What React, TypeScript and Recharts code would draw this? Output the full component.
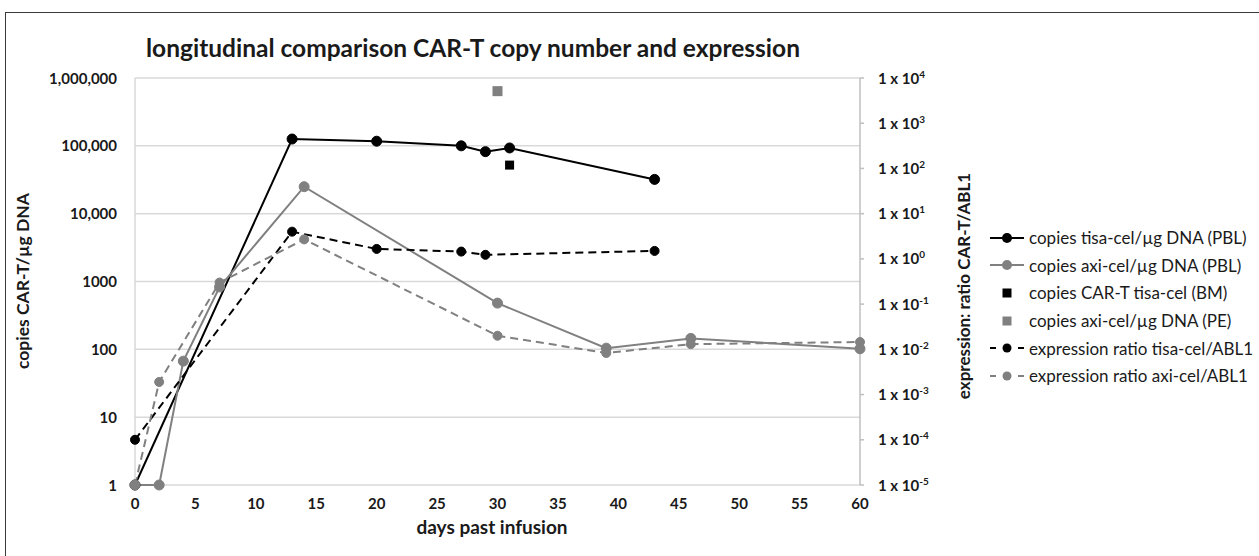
import React from "react";
import { ComposedChart, Line, Scatter, XAxis, YAxis, CartesianGrid } from "recharts";

// days past infusion / values
const tisaDays = [0, 13, 20, 27, 29, 31, 43];
const tisaCopies = [1, 126000, 117000, 100000, 82000, 93000, 32000];

const axiDays = [0, 2, 4, 7, 14, 30, 39, 46, 60];
const axiCopies = [1, 1, 67, 830, 25000, 480, 104, 145, 102];

const bmDays = [31];
const bmCopies = [52000];

const peDays = [30];
const peCopies = [640000];

const exprTisaDays = [0, 13, 20, 27, 29, 43];
const exprTisa = [0.0001, 4.0, 1.66, 1.45, 1.23, 1.5];

const exprAxiDays = [0, 2, 7, 14, 30, 39, 46, 60];
const exprAxi = [0.00001, 0.0019, 0.3, 2.7, 0.02, 0.0083, 0.013, 0.0145];

const xTicks = [0, 5, 10, 15, 20, 25, 30, 35, 40, 45, 50, 55, 60];
const leftTicks = [1, 10, 100, 1000, 10000, 100000, 1000000];
const leftTickLabels = ["1", "10", "100", "1000", "10,000", "100,000", "1,000,000"];
const rightExponents = [-5, -4, -3, -2, -1, 0, 1, 2, 3, 4];
const rightTicks = rightExponents.map((e) => Math.pow(10, e));

const legendItems = [
  { name: "copies tisa-cel/µg DNA (PBL)", color: "#000000", kind: "line" },
  { name: "copies axi-cel/µg DNA (PBL)", color: "#808080", kind: "line" },
  { name: "copies CAR-T tisa-cel (BM)", color: "#000000", kind: "square" },
  { name: "copies axi-cel/µg DNA (PE)", color: "#808080", kind: "square" },
  { name: "expression ratio tisa-cel/ABL1", color: "#000000", kind: "dash" },
  { name: "expression ratio axi-cel/ABL1", color: "#808080", kind: "dash" },
];

// one row per day, nulls where a series has no sample
const allDays = Array.from(
  new Set([...tisaDays, ...axiDays, ...exprTisaDays, ...exprAxiDays])
).sort((a, b) => a - b);

const rows = allDays.map((day) => {
  const pick = (days: number[], vals: number[]) => {
    const i = days.indexOf(day);
    return i >= 0 ? vals[i] : null;
  };
  return {
    day,
    tisa: pick(tisaDays, tisaCopies),
    axi: pick(axiDays, axiCopies),
    exprTisa: pick(exprTisaDays, exprTisa),
    exprAxi: pick(exprAxiDays, exprAxi),
  };
});

const bmRows = bmDays.map((day, i) => ({ day, bm: bmCopies[i] }));
const peRows = peDays.map((day, i) => ({ day, pe: peCopies[i] }));

const FONT = "Lato, 'Open Sans', sans-serif";
const INK = "#1a1a1a";

const XTick = ({ x, y, payload }: any) => (
  <text x={x} y={y + 24} textAnchor="middle" fontFamily={FONT} fontWeight={700} fontSize={15} fill={INK}>
    {payload.value}
  </text>
);

const LeftTick = ({ x, y, payload }: any) => {
  const i = leftTicks.indexOf(payload.value);
  return (
    <text x={x} y={y + 5.5} textAnchor="end" fontFamily={FONT} fontWeight={700} fontSize={15} fill={INK}>
      {i >= 0 ? leftTickLabels[i] : payload.value}
    </text>
  );
};

const RightTick = ({ x, y, payload }: any) => {
  const e = Math.round(Math.log10(payload.value));
  return (
    <text x={x} y={y + 5.5} textAnchor="start" fontFamily={FONT} fontWeight={700} fontSize={15} fill={INK}>
      1 x 10
      <tspan dy={-6} fontSize={10}>
        {e}
      </tspan>
    </text>
  );
};

const squareShape = (side: number, color: string) => (p: any) =>
  <rect x={p.cx - side / 2} y={p.cy - side / 2} width={side} height={side} fill={color} />;

const dotStyle = (r: number, color: string) => ({
  r,
  fill: color,
  stroke: color,
  strokeWidth: 1,
  strokeDasharray: "",
  clipDot: false,
});

function LegendSample({ kind, color }: { kind: string; color: string }) {
  return (
    <svg width={34} height={14} style={{ display: "block" }}>
      {kind === "line" && <line x1={0} x2={34} y1={7} y2={7} stroke={color} strokeWidth={2} />}
      {kind === "dash" && (
        <>
          <line x1={0} x2={6} y1={7} y2={7} stroke={color} strokeWidth={2} />
          <line x1={28} x2={34} y1={7} y2={7} stroke={color} strokeWidth={2} />
        </>
      )}
      {kind === "square" ? (
        <rect x={12.5} y={2.5} width={9} height={9} fill={color} />
      ) : (
        <circle cx={17} cy={7} r={kind === "dash" ? 4.5 : 5} fill={color} />
      )}
    </svg>
  );
}

export default function App() {
  return (
    <div
      style={{
        position: "absolute",
        left: 0,
        top: 0,
        width: 1259,
        height: 556,
        background: "#fff",
        overflow: "hidden",
        fontFamily: FONT,
      }}
    >
      <div
        style={{
          position: "absolute",
          left: 5,
          top: 12,
          width: 1400,
          height: 700,
          borderLeft: "1.5px solid #3a3a3a",
          borderTop: "1.5px solid #3a3a3a",
        }}
      />
      <ComposedChart
        width={1259}
        height={556}
        data={rows}
        margin={{ top: 78, right: 0, bottom: 0, left: 0 }}
        style={{ position: "absolute", left: 0, top: 0 }}
      >
        <CartesianGrid yAxisId="left" vertical={false} stroke="#d9d9d9" strokeWidth={1.5} />
        <XAxis
          dataKey="day"
          type="number"
          domain={[0, 60]}
          ticks={xTicks}
          height={71}
          axisLine={false}
          tickLine={false}
          tickSize={0}
          tickMargin={0}
          tick={<XTick />}
          allowDuplicatedCategory={false}
        />
        <YAxis
          yAxisId="left"
          scale="log"
          domain={[1, 1000000]}
          ticks={leftTicks}
          width={135}
          axisLine={{ stroke: "#d9d9d9", strokeWidth: 1.5 }}
          tickLine={false}
          tickSize={0}
          tickMargin={18}
          tick={<LeftTick />}
        />
        <YAxis
          yAxisId="right"
          orientation="right"
          scale="log"
          domain={[0.00001, 10000]}
          ticks={rightTicks}
          width={399}
          axisLine={{ stroke: "#bfbfbf", strokeWidth: 1.5 }}
          tickLine={{ stroke: "#bfbfbf", strokeWidth: 1.5 }}
          tickSize={4}
          tickMargin={14}
          tick={<RightTick />}
        />
        <Line
          yAxisId="left"
          dataKey="tisa"
          connectNulls
          stroke="#000"
          strokeWidth={2}
          dot={dotStyle(5, "#000")}
          activeDot={false}
          isAnimationActive={false}
        />
        <Line
          yAxisId="left"
          dataKey="axi"
          connectNulls
          stroke="#808080"
          strokeWidth={2}
          dot={dotStyle(5, "#808080")}
          activeDot={false}
          isAnimationActive={false}
        />
        <Scatter
          yAxisId="left"
          data={bmRows}
          dataKey="bm"
          fill="#000"
          shape={squareShape(9, "#000")}
          isAnimationActive={false}
        />
        <Scatter
          yAxisId="left"
          data={peRows}
          dataKey="pe"
          fill="#808080"
          shape={squareShape(10, "#808080")}
          isAnimationActive={false}
        />
        <Line
          yAxisId="right"
          dataKey="exprTisa"
          connectNulls
          stroke="#000"
          strokeWidth={2}
          strokeDasharray="8 5"
          dot={dotStyle(4.5, "#000")}
          activeDot={false}
          isAnimationActive={false}
        />
        <Line
          yAxisId="right"
          dataKey="exprAxi"
          connectNulls
          stroke="#808080"
          strokeWidth={2}
          strokeDasharray="8 5"
          dot={dotStyle(4.5, "#808080")}
          activeDot={false}
          isAnimationActive={false}
        />
      </ComposedChart>

      <svg width={1259} height={556} style={{ position: "absolute", left: 0, top: 0, pointerEvents: "none" }}>
        <text x={473} y={57} textAnchor="middle" fontFamily={FONT} fontWeight={700} fontSize={24.5} fill={INK}>
          longitudinal comparison CAR-T copy number and expression
        </text>
        <text
          transform="translate(22,281) rotate(-90)"
          textAnchor="middle"
          dominantBaseline="central"
          fontFamily={FONT}
          fontWeight={700}
          fontSize={17.5}
          fill={INK}
        >
          copies CAR-T/µg DNA
        </text>
        <text
          transform="translate(963,286) rotate(-90)"
          textAnchor="middle"
          dominantBaseline="central"
          fontFamily={FONT}
          fontWeight={700}
          fontSize={17}
          fill={INK}
        >
          expression: ratio CAR-T/ABL1
        </text>
        <text x={492} y={534} textAnchor="middle" fontFamily={FONT} fontWeight={700} fontSize={19} fill={INK}>
          days past infusion
        </text>
      </svg>

      <div style={{ position: "absolute", left: 990, top: 224 }}>
        {legendItems.map((item) => (
          <div key={item.name} style={{ display: "flex", alignItems: "center", height: 27.6 }}>
            <LegendSample kind={item.kind} color={item.color} />
            <span style={{ marginLeft: 5, fontSize: 17, color: INK, whiteSpace: "nowrap" }}>{item.name}</span>
          </div>
        ))}
      </div>
    </div>
  );
}
